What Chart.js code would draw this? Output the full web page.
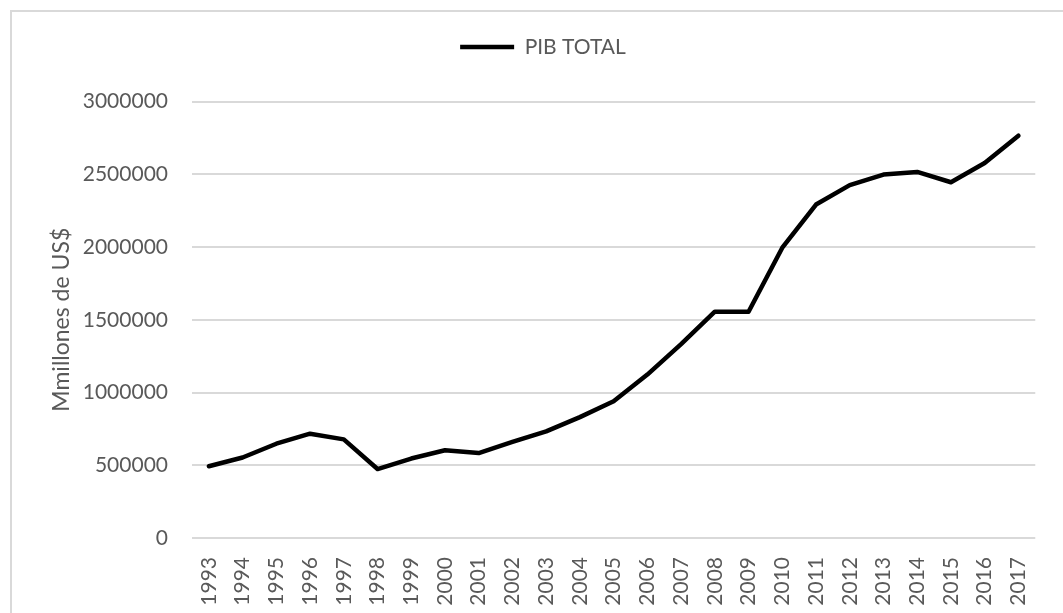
<!DOCTYPE html>
<html>
<head>
<meta charset="utf-8">
<title>PIB TOTAL</title>
<script src="https://cdn.jsdelivr.net/npm/chart.js@4.4.1/dist/chart.umd.min.js"></script>
<style>
    html, body { margin: 0; padding: 0; background: #fff; overflow: hidden; }
    .frame {
        position: absolute; left: 10px; top: 10px;
        width: 1100px; height: 700px;
        border: 2px solid #d9d9d9;
    }
    .wrap { position: absolute; left: 0; top: 0; width: 1063px; height: 613px; }
</style>
</head>
<body>
<div class="frame"></div>
<div class="wrap"><canvas id="pibChart" width="1063" height="613"></canvas></div>
<script>
// Data
const years = ['1993', '1994', '1995', '1996', '1997', '1998', '1999', '2000', '2001',
    '2002', '2003', '2004', '2005', '2006', '2007', '2008', '2009', '2010', '2011',
    '2012', '2013', '2014', '2015', '2016', '2017'];
const pibTotal = [493000, 553000, 648000, 717000, 678000, 474000, 546000, 603000, 584000,
    660000, 733000, 831000, 940000, 1123000, 1333000, 1555000, 1555000, 1995000, 2292000,
    2425000, 2498000, 2516000, 2445000, 2577000, 2765000];
const yTickLabels = ['0', '500000', '1000000', '1500000', '2000000', '2500000', '3000000'];

const textColor = '#595959';
const gridColor = '#d9d9d9';
const fontFamily = 'Lato, "Open Sans", sans-serif';

// push the plot down below the legend, as in the reference
const legendSpacer = {
    id: 'legendSpacer',
    beforeLayout(chart) {
        const legend = chart.legend;
        if (legend && !legend._spaced) {
            const fit = legend.fit;
            legend.fit = function () {
                fit.call(this);
                this.height += 34;
            };
            legend._spaced = true;
        }
    }
};

const ctx = document.getElementById('pibChart').getContext('2d');
new Chart(ctx, {
    type: 'line',
    data: {
        labels: years,
        datasets: [{
            label: 'PIB TOTAL',
            data: pibTotal,
            borderColor: '#000',
            backgroundColor: '#000',
            borderWidth: 4.5,
            borderCapStyle: 'round',
            borderJoinStyle: 'round',
            tension: 0,
            pointRadius: 0,
            fill: false
        }]
    },
    options: {
        responsive: false,
        animation: false,
        layout: { padding: { top: 26.5, left: 43, right: 20, bottom: 0 } },
        plugins: {
            legend: {
                position: 'top',
                labels: {
                    color: textColor,
                    font: { family: fontFamily, size: 21 },
                    usePointStyle: true,
                    pointStyle: 'line',
                    pointStyleWidth: 54,
                    padding: 10
                }
            },
            tooltip: { enabled: false }
        },
        scales: {
            x: {
                offset: true,
                grid: { display: false, drawTicks: false },
                border: { display: false },
                ticks: {
                    color: textColor,
                    font: { family: fontFamily, size: 21 },
                    minRotation: 90,
                    maxRotation: 90,
                    padding: 19,
                    autoSkip: false
                },
                afterFit(scale) { scale.height = 75; }
            },
            y: {
                min: 0,
                max: 3000000,
                grid: { color: gridColor, lineWidth: 2, drawTicks: false },
                border: { display: false },
                ticks: {
                    stepSize: 500000,
                    color: textColor,
                    font: { family: fontFamily, size: 21 },
                    padding: 24,
                    callback: (value, i) => yTickLabels[i]
                },
                title: {
                    display: true,
                    text: 'Mmillones de US$',
                    color: textColor,
                    font: { family: fontFamily, size: 23 },
                    padding: { top: 5, bottom: 0 }
                },
                afterFit(scale) { scale.width = 149; }
            }
        }
    },
    plugins: [legendSpacer]
});
</script>
</body>
</html>
